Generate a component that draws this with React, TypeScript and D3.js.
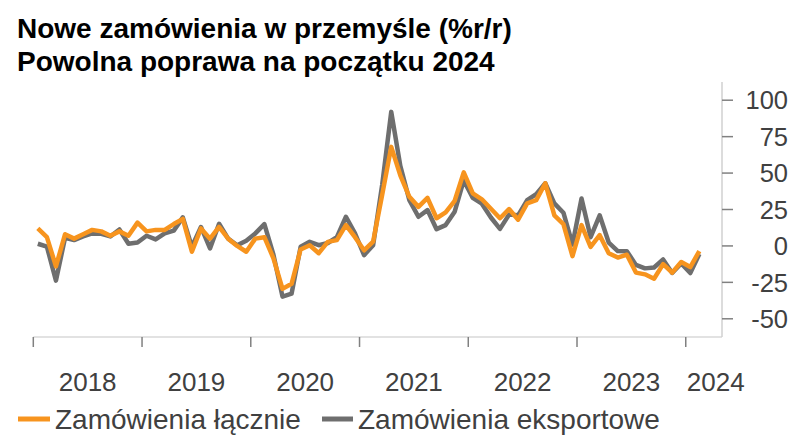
import React from "react";
import * as d3 from "d3";

const title1 = "Nowe zamówienia w przemyśle (%r/r)";
const title2 = "Powolna poprawa na początku 2024";
const seriesNames = ["Zamówienia łącznie", "Zamówienia eksportowe"];
const yearLabels = ["2018", "2019", "2020", "2021", "2022", "2023", "2024"];
const yTicks = [-50, -25, 0, 25, 50, 75, 100];
const monthsOnAxis = 76; // Jan 2018 .. Apr 2024

// Jan 2018 .. Feb 2024, monthly
const total = [
  12, 6, -14, 8, 5, 8, 11, 10, 7, 10, 7, 16,
  10, 11, 11, 15, 18.5, -4, 12, 5, 13, 5, 0, -4,
  5, 6, -8.5, -29.5, -26, -2.4, 0.5, -5, 2.8, 4, 14.3, 6,
  -3, 3, 35, 68, 48.5, 33.7, 26.8, 33, 19, 23, 31, 50.5,
  36, 32, 25.5, 19, 25.3, 18, 29.2, 31.4, 43, 21, 15, -7,
  14.3, -0.6, 7.4, -5, -8, -6, -18.3, -19.5, -22.5, -12.5, -18.3, -11,
  -14.5, -3.5,
];
const exportOrders = [
  1.5, -0.5, -23.8, 5.5, 4, 6.5, 8.6, 8.3, 6.5, 11.3, 1.5, 2.3,
  7, 4.5, 8.6, 10.5, 19.6, -0.6, 13, -1.7, 15.2, 5, 0.5, 3.5,
  8.6, 15, -6, -34.8, -32.8, -0.6, 2.8, 0.5, 2, 6, 20, 8.6,
  -6.3, 0.5, 42, 92, 55, 31.4, 20, 24.6, 11.5, 14.3, 23.5, 45,
  33, 29, 19.5, 11.7, 21.5, 21, 31.4, 35.5, 43, 29.2, 22.8, 1,
  32.6, 6, 21, 2.3, -3.5, -3.6, -13, -15.4, -14.8, -9.3, -18.5, -12,
  -18.6, -5.5,
];

const W = 800;
const H = 448;
const ORANGE = "#F7941E";
const GRAY = "#6E6E6E";
const FONT = "'Liberation Sans', Arial, sans-serif";

export default function App() {
  const x = d3.scaleLinear().domain([0, monthsOnAxis]).range([33.3, 722]);
  const y = d3.scaleLinear().domain([-62.5, 112.5]).range([337, 82]);
  const line = d3
    .line<number>()
    .x((_, i) => x(i + 0.5))
    .y((d) => y(d));

  const yearTickIdx = yearLabels.map((_, k) => k * 12);

  return (
    <svg
      width={W}
      height={H}
      style={{ position: "absolute", left: 0, top: 0, background: "#fff" }}
      fontFamily={FONT}
    >
      <rect width={W} height={H} fill="#fff" />
      <text x={17} y={38} fontSize={28} fontWeight="bold" fill="#000">
        {title1}
      </text>
      <text x={17} y={71} fontSize={28} fontWeight="bold" fill="#000">
        {title2}
      </text>

      {/* axes */}
      <line x1={x(0)} x2={x(monthsOnAxis)} y1={y(-62.5)} y2={y(-62.5)} stroke="#D9D9D9" strokeWidth={1.5} />
      <line x1={x(monthsOnAxis)} x2={x(monthsOnAxis)} y1={y(112.5)} y2={y(-62.5)} stroke="#D0D0D0" strokeWidth={1.5} />
      {yearTickIdx.map((m) => (
        <line key={m} x1={x(m)} x2={x(m)} y1={y(-62.5)} y2={y(-62.5) + 10} stroke="#808080" strokeWidth={1.5} />
      ))}
      {yTicks.map((t) => (
        <g key={t}>
          <line x1={x(monthsOnAxis)} x2={x(monthsOnAxis) + 11} y1={y(t)} y2={y(t)} stroke="#808080" strokeWidth={1.5} />
          <text x={788} y={y(t)} dy="0.36em" textAnchor="end" fontSize={25.5} fill="#404040">
            {t}
          </text>
        </g>
      ))}
      {yearLabels.map((lab, k) => {
        const start = k * 12;
        const end = Math.min(start + 12, monthsOnAxis);
        const cx = k === yearLabels.length - 1 ? x(start) + 30 : x((start + end) / 2);
        return (
          <text key={lab} x={cx} y={391} textAnchor="middle" fontSize={26} fill="#404040">
            {lab}
          </text>
        );
      })}

      {/* series */}
      <path d={line(exportOrders) || ""} fill="none" stroke={GRAY} strokeWidth={4.5} strokeLinejoin="round" />
      <path d={line(total) || ""} fill="none" stroke={ORANGE} strokeWidth={4.5} strokeLinejoin="round" />

      {/* legend */}
      <line x1={18} x2={50} y1={419} y2={419} stroke={ORANGE} strokeWidth={5} />
      <text x={55} y={429} fontSize={28} fill="#404040">
        {seriesNames[0]}
      </text>
      <line x1={322} x2={353} y1={419} y2={419} stroke={GRAY} strokeWidth={5} />
      <text x={358} y={429} fontSize={28} fill="#404040">
        {seriesNames[1]}
      </text>
    </svg>
  );
}
